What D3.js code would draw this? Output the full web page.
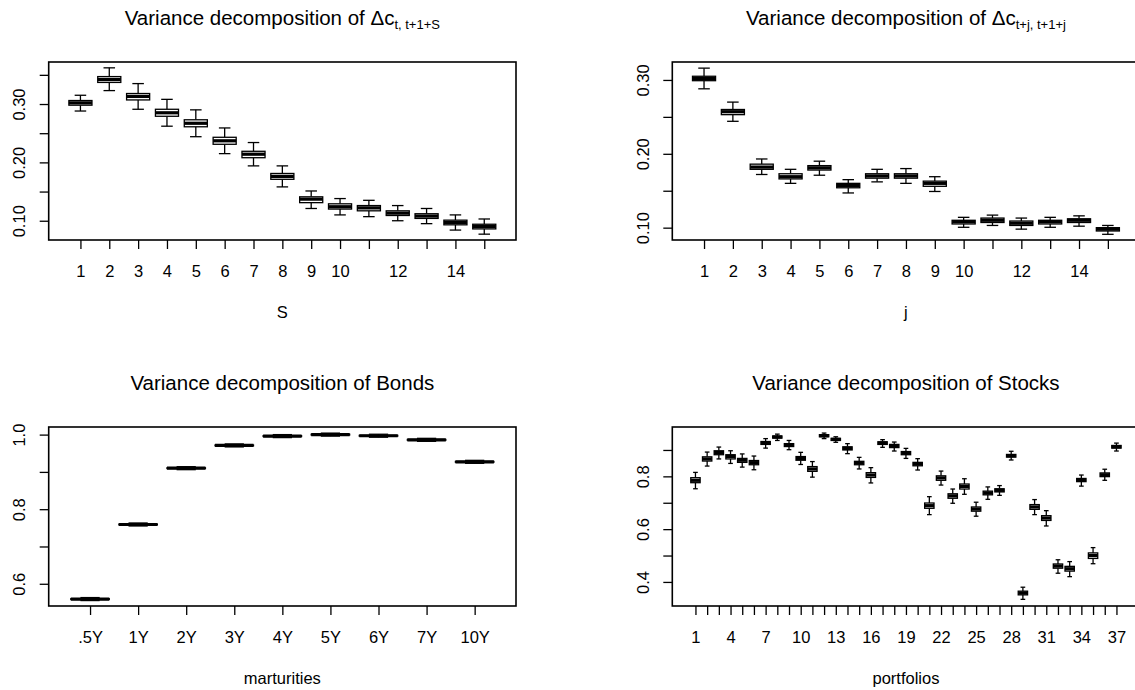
<!DOCTYPE html>
<meta charset="utf-8">
<html>
<head>
<title>Variance decomposition</title>
<script src="https://cdnjs.cloudflare.com/ajax/libs/d3/7.8.5/d3.min.js"></script>
<style>
body {
  margin: 0px;
  background: #fff;
}
svg {
  display: block;
  font-family: "Liberation Sans", Arial, sans-serif;
}
.title {
  font-size: 20.5px;
  text-anchor: middle;
  fill: #000;
}
.axis text {
  font-size: 16.5px;
  fill: #000;
  font-family: "Liberation Sans", Arial, sans-serif;
}
.axis line {
  stroke: #000;
  stroke-width: 1.3px;
}
.xlab {
  font-size: 16.5px;
  text-anchor: middle;
}
</style>
</head>
<body>
<script>
// panel 1: horizon S
var sCats = [1, 2, 3, 4, 5, 6, 7, 8, 9, 10, 11, 12, 13, 14, 15];
var sLabels = ["1", "2", "3", "4", "5", "6", "7", "8", "9", "10", "", "12", "", "14", ""];
var sLo  = [.288, .323, .291, .262, .244, .215, .194, .158, .121, .110, .107, .100, .095, .084, .077];
var sQ1  = [.298, .337, .307, .279, .261, .231, .208, .171, .131, .120, .117, .109, .104, .093, .086];
var sMed = [.302, .342, .313, .285, .267, .237, .214, .176, .137, .124, .122, .113, .108, .097, .090];
var sQ3  = [.306, .347, .318, .291, .273, .243, .219, .181, .141, .129, .126, .117, .112, .101, .094];
var sHi  = [.315, .362, .335, .308, .290, .259, .234, .194, .151, .138, .135, .126, .121, .110, .103];
var sTicks = [0.10, 0.15, 0.20, 0.25, 0.30, 0.35];
var sTickLabels = [0.10, 0.20, 0.30];

// panel 2: j
var jCats = [1, 2, 3, 4, 5, 6, 7, 8, 9, 10, 11, 12, 13, 14, 15];
var jLabels = ["1", "2", "3", "4", "5", "6", "7", "8", "9", "10", "", "12", "", "14", ""];
var jLo  = [.288, .244, .172, .160, .171, .147, .162, .160, .149, .1005, .103, .098, .1005, .102, .091];
var jQ1  = [.299, .253, .179, .166, .178, .154, .167, .167, .156, .105, .107, .103, .105, .107, .0955];
var jMed = [.302, .257, .182, .169, .181, .157, .170, .170, .160, .108, .110, .106, .108, .110, .098];
var jQ3  = [.305, .260, .186, .173, .184, .160, .173, .173, .163, .110, .113, .109, .110, .112, .100];
var jHi  = [.316, .270, .193, .179, .190, .165, .179, .180, .169, .114, .117, .113, .114, .116, .103];
var jTicks = [0.10, 0.15, 0.20, 0.25, 0.30];
var jTickLabels = [0.10, 0.20, 0.30];

// panel 3: bonds by maturity
var bondCats = [".5Y", "1Y", "2Y", "3Y", "4Y", "5Y", "6Y", "7Y", "10Y"];
var bondLo  = [.555, .755, .906, .967, .992, .996, .993, .982, .923];
var bondQ1  = [.558, .758, .909, .970, .995, .999, .996, .985, .926];
var bondMed = [.559, .759, .910, .971, .996, 1.000, .997, .986, .927];
var bondQ3  = [.560, .760, .911, .972, .997, 1.001, .998, .987, .928];
var bondHi  = [.563, .763, .914, .975, 1.000, 1.004, 1.001, .990, .931];
var bondTicks = [0.6, 0.7, 0.8, 0.9, 1.0];
var bondTickLabels = [0.6, 0.8, 1.0];

// panel 4: stock portfolios
var stockCats = d3.range(1, 38);
var stockLo  = [.753, .839, .866, .849, .835, .825, .907, .936, .901, .845, .797, .943, .929, .886, .828, .775, .910, .896, .868, .824,
                .655, .767, .698, .732, .649, .713, .728, .862, .334, .655, .612, .433, .420, .763, .469, .785, .896];
var stockQ1  = [.776, .858, .882, .866, .853, .844, .921, .945, .913, .861, .819, .950, .936, .900, .844, .796, .921, .909, .882, .840,
                .679, .785, .717, .752, .668, .730, .741, .873, .351, .675, .633, .452, .441, .780, .489, .799, .907];
var stockMed = [.785, .866, .890, .875, .861, .852, .926, .949, .919, .868, .828, .954, .940, .906, .851, .805, .926, .915, .888, .847,
                .689, .794, .726, .762, .676, .737, .747, .878, .358, .684, .642, .460, .450, .786, .500, .806, .912];
var stockQ3  = [.795, .874, .897, .882, .868, .860, .932, .953, .924, .875, .837, .958, .944, .912, .857, .814, .931, .921, .894, .853,
                .699, .802, .734, .771, .684, .744, .753, .883, .365, .693, .651, .468, .459, .792, .510, .813, .917];
var stockHi  = [.815, .892, .911, .897, .885, .877, .943, .960, .936, .891, .856, .964, .950, .924, .872, .833, .939, .930, .906, .867,
                .723, .820, .752, .791, .702, .760, .765, .895, .380, .712, .670, .484, .477, .805, .530, .827, .926];
var stockTicks = [0.4, 0.5, 0.6, 0.7, 0.8, 0.9];
var stockTickLabels = [0.4, 0.6, 0.8];

var width = 1135, height = 690;

var svg = d3.select("body").append("svg")
  .attr("width", width)
  .attr("height", height);

function rows(cats, lo, q1, med, q3, hi) {
  return cats.map(function(c, i) {
    return {i: i + 1, lo: lo[i], q1: q1[i], med: med[i], q3: q3[i], hi: hi[i]};
  });
}

function boxPanel(o) {
  var w = 467.3, h = o.h;
  var n = o.data.length;
  var pad = 0.04 * n;
  var x = d3.scaleLinear().domain([0.5 - pad, n + 0.5 + pad]).range([0, w]);
  var y = d3.scaleLinear().domain(o.yDomain).range([h, 0]);
  var bw = 0.8 * (x(2) - x(1));

  var g = svg.append("g").attr("transform", "translate(" + o.left + "," + o.top + ")");

  var b = g.selectAll(".bx").data(o.data).enter().append("g").attr("class", "bx");

  // whiskers
  b.append("line")
    .attr("x1", function(d) { return x(d.i); }).attr("x2", function(d) { return x(d.i); })
    .attr("y1", function(d) { return y(d.hi); }).attr("y2", function(d) { return y(d.q3); })
    .attr("stroke", "#000").attr("stroke-width", 1.3);
  b.append("line")
    .attr("x1", function(d) { return x(d.i); }).attr("x2", function(d) { return x(d.i); })
    .attr("y1", function(d) { return y(d.q1); }).attr("y2", function(d) { return y(d.lo); })
    .attr("stroke", "#000").attr("stroke-width", 1.3);
  // staples
  ["lo", "hi"].forEach(function(k) {
    b.append("line")
      .attr("x1", function(d) { return x(d.i) - bw / 4; }).attr("x2", function(d) { return x(d.i) + bw / 4; })
      .attr("y1", function(d) { return y(d[k]); }).attr("y2", function(d) { return y(d[k]); })
      .attr("stroke", "#000").attr("stroke-width", 1.3);
  });
  // box
  b.append("rect")
    .attr("x", function(d) { return x(d.i) - bw / 2; })
    .attr("y", function(d) { return y(d.q3); })
    .attr("width", bw)
    .attr("height", function(d) { return Math.max(0.01, y(d.q1) - y(d.q3)); })
    .attr("fill", "#fff").attr("stroke", "#000").attr("stroke-width", 1.3);
  // median
  b.append("line")
    .attr("x1", function(d) { return x(d.i) - bw / 2; }).attr("x2", function(d) { return x(d.i) + bw / 2; })
    .attr("y1", function(d) { return y(d.med); }).attr("y2", function(d) { return y(d.med); })
    .attr("stroke", "#000").attr("stroke-width", 3.2);

  // frame
  g.append("rect")
    .attr("width", w).attr("height", h)
    .attr("fill", "none").attr("stroke", "#000").attr("stroke-width", 1.6);

  var xa = g.append("g").attr("class", "axis")
    .attr("transform", "translate(0," + h + ")")
    .call(d3.axisBottom(x).tickValues(d3.range(1, n + 1)).tickSize(9)
      .tickFormat(function(d) { return o.xLabels[d - 1]; }));
  xa.select(".domain").remove();
  xa.selectAll("text").attr("y", 37).attr("dy", null);

  var ya = g.append("g").attr("class", "axis")
    .call(d3.axisLeft(y).tickValues(o.yTicks).tickSize(9)
      .tickFormat(function(d) {
        return o.yLabels.some(function(v) { return Math.abs(v - d) < 1e-9; }) ? o.fmt(d) : "";
      }));
  ya.select(".domain").remove();
  ya.selectAll("text")
    .attr("x", null).attr("dy", null)
    .attr("text-anchor", "middle")
    .attr("transform", "translate(-23.7,0) rotate(-90)");

  var t = g.append("text").attr("class", "title")
    .attr("x", w / 2).attr("y", -37)
    .text(o.title);
  if (o.sub) {
    t.append("tspan").attr("font-size", "13px").attr("dy", 4).text(o.sub);
  }

  g.append("text").attr("class", "xlab")
    .attr("x", w / 2).attr("y", h + 78)
    .text(o.xTitle);
}

boxPanel({
  left: 48.7, top: 62, h: 178,
  data: rows(sCats, sLo, sQ1, sMed, sQ3, sHi),
  yDomain: [0.067, 0.372], yTicks: sTicks, yLabels: sTickLabels, fmt: d3.format(".2f"),
  xLabels: sLabels,
  title: "Variance decomposition of \u0394c", sub: "t, t+1+S",
  xTitle: "S"
});

boxPanel({
  left: 672.3, top: 62, h: 178,
  data: rows(jCats, jLo, jQ1, jMed, jQ3, jHi),
  yDomain: [0.0833, 0.3243], yTicks: jTicks, yLabels: jTickLabels, fmt: d3.format(".2f"),
  xLabels: jLabels,
  title: "Variance decomposition of \u0394c", sub: "t+j, t+1+j",
  xTitle: "j"
});

boxPanel({
  left: 48.7, top: 427, h: 179,
  data: rows(bondCats, bondLo, bondQ1, bondMed, bondQ3, bondHi),
  yDomain: [0.5404, 1.0204], yTicks: bondTicks, yLabels: bondTickLabels, fmt: d3.format(".1f"),
  xLabels: bondCats,
  title: "Variance decomposition of Bonds",
  xTitle: "marturities"
});

boxPanel({
  left: 672.3, top: 427, h: 179,
  data: rows(stockCats, stockLo, stockQ1, stockMed, stockQ3, stockHi),
  yDomain: [0.3088, 0.987], yTicks: stockTicks, yLabels: stockTickLabels, fmt: d3.format(".1f"),
  xLabels: stockCats.map(function(c) { return (c - 1) % 3 === 0 ? String(c) : ""; }),
  title: "Variance decomposition of Stocks",
  xTitle: "portfolios"
});
</script>
</body>
</html>
